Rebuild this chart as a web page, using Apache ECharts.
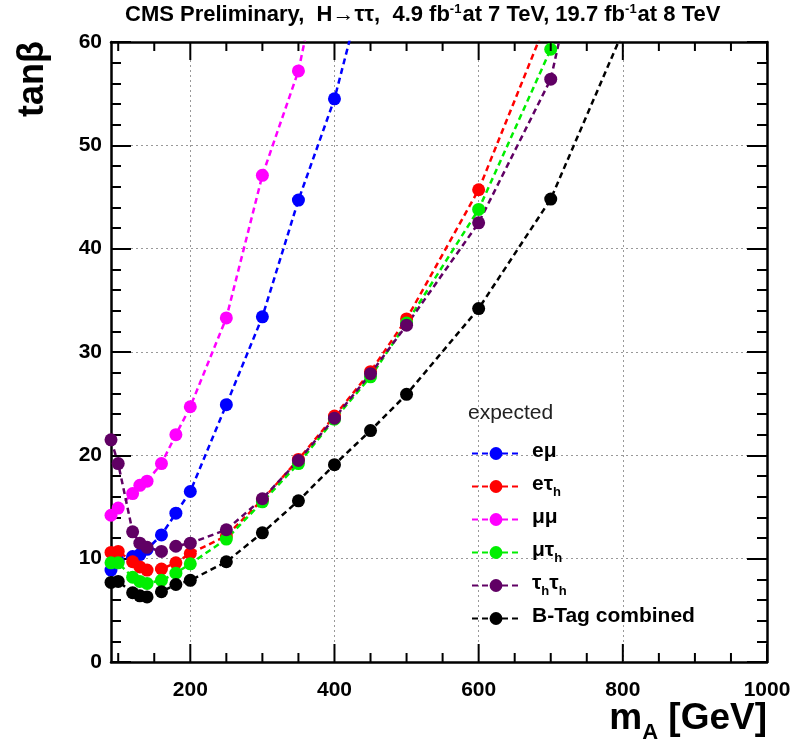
<!DOCTYPE html>
<html><head><meta charset="utf-8">
<script src="https://cdn.jsdelivr.net/npm/echarts@6/dist/echarts.min.js"></script>
<style>html,body{margin:0;padding:0;background:#fff}#c{width:809px;height:753px}</style>
</head><body><div id="c"></div>
<script>
// ---- data ----
const masses = [90, 100, 120, 130, 140, 160, 180, 200, 250, 300, 350, 400, 450, 500, 600, 700, 800];
const emu    = [8.9, 9.8, 10.2, 10.4, 10.9, 12.3, 14.4, 16.5, 24.9, 33.4, 44.7, 54.5, 68, null, null, null, null];
const etau   = [10.6, 10.7, 9.7, 9.2, 8.9, 9.0, 9.6, 10.5, 12.2, 15.7, 19.6, 23.8, 28.1, 33.2, 45.7, 63, null];
const mumu   = [14.2, 14.9, 16.3, 17.1, 17.5, 19.2, 22.0, 24.7, 33.3, 47.1, 57.2, 74, null, null, null, null, null];
const mutau  = [9.6, 9.6, 8.2, 7.8, 7.6, 7.9, 8.6, 9.5, 11.9, 15.5, 19.2, 23.5, 27.6, 32.8, 43.8, 59.3, null];
const tautau = [21.5, 19.2, 12.6, 11.5, 11.1, 10.7, 11.2, 11.5, 12.8, 15.8, 19.5, 23.6, 27.9, 32.6, 42.5, 56.4, 88];
const btag   = [7.7, 7.8, 6.7, 6.4, 6.3, 6.8, 7.5, 7.9, 9.7, 12.5, 15.6, 19.1, 22.4, 25.9, 34.2, 44.8, 61];

const seriesNames  = ['e\u03bc', 'e\u03c4h', '\u03bc\u03bc', '\u03bc\u03c4h', '\u03c4h\u03c4h', 'B-Tag combined'];
const legendLabels = ['{b|e\u03bc}{s| }', '{b|e\u03c4}{s|h}', '{b|\u03bc\u03bc}{s| }', '{b|\u03bc\u03c4}{s|h}', '{b|\u03c4}{s|h}{b|\u03c4}{s|h}', '{b|B-Tag combined}{s| }'];
const seriesValues = [emu, etau, mumu, mutau, tautau, btag];
const seriesColors = ['#0000ff', '#ff0000', '#ff00ff', '#00ee00', '#600064', '#000000'];

const xMin = 90, xMax = 1000, yMin = 0, yMax = 60;
const xMajor = [200, 400, 600, 800, 1000];
const xMinor = [100, 150, 250, 300, 350, 450, 500, 550, 650, 700, 750, 850, 900, 950];
const xGrid  = [200, 400, 600, 800];

const FONT = "'Liberation Sans', Arial, Helvetica, sans-serif";
const NARROW = "'Liberation Sans Narrow', " + FONT;
const chart = echarts.init(document.getElementById('c'), null, {renderer: 'canvas'});

const frame = {show: true, onZero: false, lineStyle: {color: '#000', width: 2.5}};

const series = seriesValues.map((vals, i) => ({
  name: seriesNames[i],
  type: 'line',
  xAxisIndex: 0, yAxisIndex: 0,
  z: 3,
  clip: true,
  data: masses.map((m, j) => vals[j] == null ? null : [m, vals[j]]).filter(d => d),
  symbol: 'circle', symbolSize: 13,
  itemStyle: {color: seriesColors[i]},
  lineStyle: {color: seriesColors[i], width: 2.5, type: [6, 4]}
}));
series[0].markLine = {
  silent: true, z: 1, symbol: 'none', label: {show: false}, animation: false,
  lineStyle: {type: [2, 3], color: '#999', width: 1},
  emphasis: {disabled: true},
  data: xGrid.map(v => ({xAxis: v}))
};

const baseGraphic = [
  {type: 'text', left: 125, top: 3, silent: true,
   style: {text: 'CMS Preliminary,  H\u2192\u03c4\u03c4,  4.9 fb{sup|-1}{t|at 7 TeV, 19.7 fb}{sup|-1}{t|at 8 TeV}',
     font: "bold 22px " + NARROW, fill: '#000',
     rich: {t: {fontSize: 22, fontWeight: 'bold', fontFamily: NARROW, verticalAlign: 'bottom'},
            sup: {fontSize: 13, fontWeight: 'bold', fontFamily: NARROW, verticalAlign: 'top', padding: [0, 1, 10, 0]}}}},
  {type: 'text', x: 33, y: 79, rotation: Math.PI / 2, silent: true,
   style: {text: 'tan\u03b2', font: 'bold 36px ' + FONT, fill: '#000', align: 'center', verticalAlign: 'middle'}},
  {type: 'text', right: 42, top: 700, silent: true,
   style: {text: '{m|m}{s|A}{m| [GeV]}',
     rich: {m: {fontSize: 37, fontWeight: 'bold', fontFamily: FONT, lineHeight: 40, verticalAlign: 'top'},
            s: {fontSize: 22, fontWeight: 'bold', fontFamily: FONT, padding: [22, 0, 0, 0], verticalAlign: 'top'}}}},
  {type: 'text', left: 468, top: 403, silent: true,
   style: {text: 'expected', font: '21px ' + FONT, fill: '#222'}}
];

const option = {
  animation: false,
  backgroundColor: '#fff',
  grid: {left: 111, right: 42, top: 42, bottom: 91},
  xAxis: [
    {type: 'value', position: 'bottom', min: xMin, max: xMax,
     axisLine: frame, axisTick: {show: false},
     axisLabel: {show: true, customValues: xMajor, margin: 18, fontSize: 21, fontWeight: 'bold', color: '#000', fontFamily: FONT, formatter: v => String(v)},
     splitLine: {show: false}},
    {type: 'value', position: 'top', min: xMin, max: xMax,
     axisLine: frame, axisTick: {show: false}, axisLabel: {show: false}, splitLine: {show: false}}
  ],
  yAxis: [
    {type: 'value', position: 'left', min: yMin, max: yMax, interval: 10,
     axisLine: frame,
     axisTick: {show: true, inside: true, length: 20, lineStyle: {color: '#000', width: 2}},
     minorTick: {show: true, splitNumber: 5, length: 10, lineStyle: {color: '#000', width: 2}},
     axisLabel: {margin: 9, fontSize: 21, fontWeight: 'bold', color: '#000', fontFamily: FONT},
     splitLine: {show: true, lineStyle: {type: [2, 3], color: '#999', width: 1}}},
    {type: 'value', position: 'right', min: yMin, max: yMax, interval: 10,
     axisLine: frame,
     axisTick: {show: true, inside: true, length: 20, lineStyle: {color: '#000', width: 2}},
     minorTick: {show: true, splitNumber: 5, length: 10, lineStyle: {color: '#000', width: 2}},
     axisLabel: {show: false}, splitLine: {show: false}}
  ],
  legend: {
    orient: 'vertical', left: 466, top: 436,
    itemWidth: 48, itemHeight: 16, itemGap: 8,
    data: seriesNames,
    formatter: name => legendLabels[seriesNames.indexOf(name)],
    textStyle: {
      padding: [0, 0, 0, 7],
      rich: {
        b: {fontSize: 21, fontWeight: 'bold', color: '#000', fontFamily: FONT, lineHeight: 22, verticalAlign: 'top'},
        s: {fontSize: 13, fontWeight: 'bold', color: '#000', fontFamily: FONT, padding: [12, 0, 0, 0], verticalAlign: 'top'}
      }
    }
  },
  graphic: baseGraphic,
  series: series
};
chart.setOption(option);

// x-axis tick marks: positions converted through the chart's own x/y scales
const tickGraphics = [];
function addTicks(values, len) {
  values.forEach(v => {
    const b = chart.convertToPixel({xAxisIndex: 0, yAxisIndex: 0}, [v, yMin]);
    const t = chart.convertToPixel({xAxisIndex: 0, yAxisIndex: 0}, [v, yMax]);
    tickGraphics.push({type: 'line', silent: true, z: 100,
      shape: {x1: b[0], y1: b[1], x2: b[0], y2: b[1] - len}, style: {stroke: '#000', lineWidth: 2}});
    tickGraphics.push({type: 'line', silent: true, z: 100,
      shape: {x1: t[0], y1: t[1], x2: t[0], y2: t[1] + len}, style: {stroke: '#000', lineWidth: 2}});
  });
}
addTicks(xMajor, 18);
addTicks(xMinor, 9);
chart.setOption({graphic: baseGraphic.concat(tickGraphics)}, {replaceMerge: ['graphic']});
</script>
</body></html>
